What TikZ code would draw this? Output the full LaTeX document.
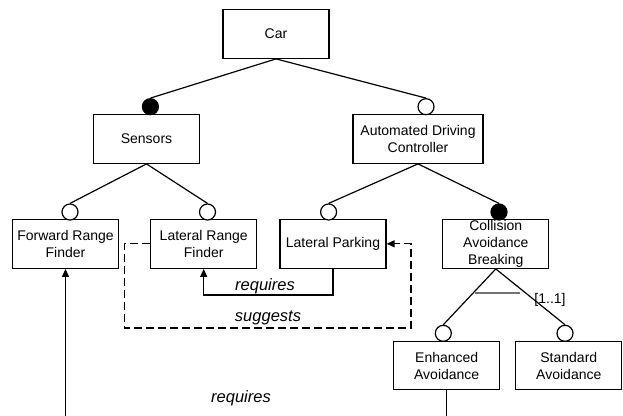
\documentclass[tikz,border=0pt]{standalone}
\usepackage{fontspec}
\setmainfont{Liberation Sans}
\usetikzlibrary{arrows.meta,positioning}

\begin{document}
\begin{tikzpicture}[x=1pt,y=-1pt,line width=1.2pt,
  every node/.style={font=\fontsize{14}{17}\selectfont},
  feat/.style={draw,rectangle,minimum width=106pt,minimum height=49pt,align=center,inner sep=1pt},
  mand/.style={draw,circle,fill=black,minimum size=16pt,inner sep=0pt},
  opt/.style={draw,circle,fill=white,minimum size=16pt,inner sep=0pt},
  rel/.style={font=\fontsize{16.5}{19}\selectfont\itshape},
  req/.style={-{Triangle[length=8pt,width=7pt]}},
  sug/.style={req,dash pattern=on 8pt off 4pt}]
\useasboundingbox (0,0) rectangle (623,415);
\clip (0,0) rectangle (623,415);
% features
\node[feat] (car) at (276,33.8) {Car};
\node[feat] (sens) at (146.5,138.8) {Sensors};
\node[feat,minimum width=130pt] (adc) at (418,138.8) {Automated Driving\\Controller};
\node[feat] (frf) at (65.5,243.8) {Forward Range\\Finder};
\node[feat] (lrf) at (203.7,243.8) {Lateral Range\\Finder};
\node[feat] (lp) at (333,243.8) {Lateral Parking};
\node[feat] (cab) at (495.8,243.8) {Collision\\Avoidance\\Breaking};
\node[feat,minimum height=48pt] (ea) at (446.7,365.8) {Enhanced\\Avoidance};
\node[feat,minimum height=48pt] (sa) at (568.8,365.8) {Standard\\Avoidance};
% mandatory / optional markers
\node[mand] (sensC) at (150.4,106.7) {};
\node[opt] (adcC) at (426,106.7) {};
\node[opt] (frfC) at (70,212) {};
\node[opt] (lrfC) at (207.5,212) {};
\node[opt] (lpC) at (328.6,212) {};
\node[mand] (cabC) at (499,212) {};
\node[opt] (eaC) at (443.3,333.3) {};
\node[opt] (saC) at (565,333.3) {};
% tree edges
\draw (car.south) -- (sensC.north);
\draw (car.south) -- (adcC.north);
\draw (sens.south) -- (frfC.north);
\draw (sens.south) -- (lrfC.north);
\draw (adc.south) -- (lpC.north);
\draw (adc.south) -- (cabC.north);
\draw (cab.south) -- (eaC.north);
\draw (cab.south) -- (saC.north);
% alternative group
\draw[black!55,line width=2pt] (475,292.7) -- (520,292.7);
\node (card) at (550,300) {[1..1]};
% cross-tree constraints
\draw[req] (lp.south) -- ++(0,26) -| (lrf.south);
\node[rel] (reqA) at (265,286) {requires};
\coordinate (sugB) at (411,328);
\draw[sug] (lrf.west) -- ++(-26,0) |- (sugB) |- (lp.east);
\node[rel] (sugA) at (268,317.5) {suggests};
\draw[req] (ea.south) -- ++(0,40) -| (frf.south);
\node[rel] (reqB) at (241,398) {requires};
\end{tikzpicture}
\end{document}
